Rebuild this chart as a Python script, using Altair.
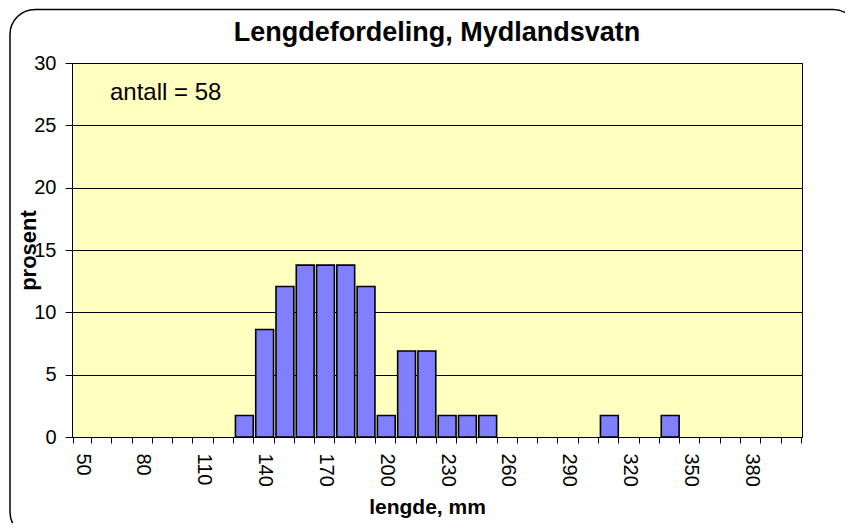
import altair as alt
import pandas as pd

# Bin labels (mm) on the category axis
lengths = list(range(50, 401, 10))
# Bins with fish, and their share in percent (n = 58)
bar_lengths = [130, 140, 150, 160, 170, 180, 190, 200, 210, 220, 230, 240, 250, 310, 340]
bar_percent = [1.72, 8.62, 12.07, 13.79, 13.79, 13.79, 12.07, 1.72, 6.90, 6.90,
               1.72, 1.72, 1.72, 1.72, 1.72]
y_ticks = [0, 5, 10, 15, 20, 25, 30]
title_text = "Lengdefordeling, Mydlandsvatn"
note_text = "antall = 58"

df = pd.DataFrame({"lengde": bar_lengths, "prosent": bar_percent})

FONT = "Liberation Sans"

x_enc = alt.X(
    "lengde:O",
    scale=alt.Scale(domain=lengths, paddingInner=0.12, paddingOuter=0.06),
    axis=alt.Axis(
        title="lengde, mm",
        titleFont=FONT, titleFontSize=21, titleFontWeight="bold", titleColor="black",
        titleX=355, titleY=76, titleBaseline="alphabetic", titleAlign="center",
        labelFont=FONT, labelFontSize=20, labelColor="black", labelAngle=90,
        labelExpr="datum.value % 30 == 20 ? datum.label : ''",
        labelOverlap=False, labelPadding=10,
        tickBand="extent", tickSize=6, tickColor="black",
        domainColor="black", domainWidth=1,
    ),
)
y_enc = alt.Y(
    "prosent:Q",
    scale=alt.Scale(domain=[0, 30], nice=False),
    axis=alt.Axis(
        values=y_ticks, title="prosent",
        titleFont=FONT, titleFontSize=22, titleFontWeight="bold", titleColor="black",
        titleX=-37, titleY=187, titleBaseline="alphabetic", titleAngle=270,
        titleAlign="center",
        labelFont=FONT, labelFontSize=20, labelColor="black", labelPadding=9,
        tickSize=7, tickColor="black",
        grid=True, gridColor="black", gridWidth=1,
        domain=False,
    ),
)

bars = alt.Chart(df).mark_bar(
    color="#8080FF", stroke="black", strokeWidth=1.6
).encode(x=x_enc, y=y_enc)

note = alt.Chart(pd.DataFrame({"t": [note_text]})).mark_text(
    align="left", baseline="alphabetic", font=FONT, fontSize=24, color="black"
).encode(x=alt.value(38), y=alt.datum(27.0), text="t:N")

frame = alt.Chart(pd.DataFrame({"f": [0]})).mark_rect(
    fillOpacity=0, stroke="black", strokeWidth=1.5, cornerRadius=25
).encode(x=alt.value(-62), x2=alt.value(786), y=alt.value(-53.5), y2=alt.value(474))

chart = alt.layer(frame, bars, note).properties(
    width=730,
    height=374,
    title=alt.TitleParams(
        title_text, font=FONT, fontSize=27, fontWeight="bold", color="black",
        anchor="middle", frame="group", baseline="alphabetic", offset=19, dy=78,
    ),
    background="white",
    autosize=alt.AutoSizeParams(type="none"),
    padding={"left": 64, "top": 55, "right": 43, "bottom": 86},
).configure_view(
    fill="#FFFFC0", stroke="black", strokeWidth=1
)

chart.save("out.html", embed_options={"renderer": "svg", "actions": False})
